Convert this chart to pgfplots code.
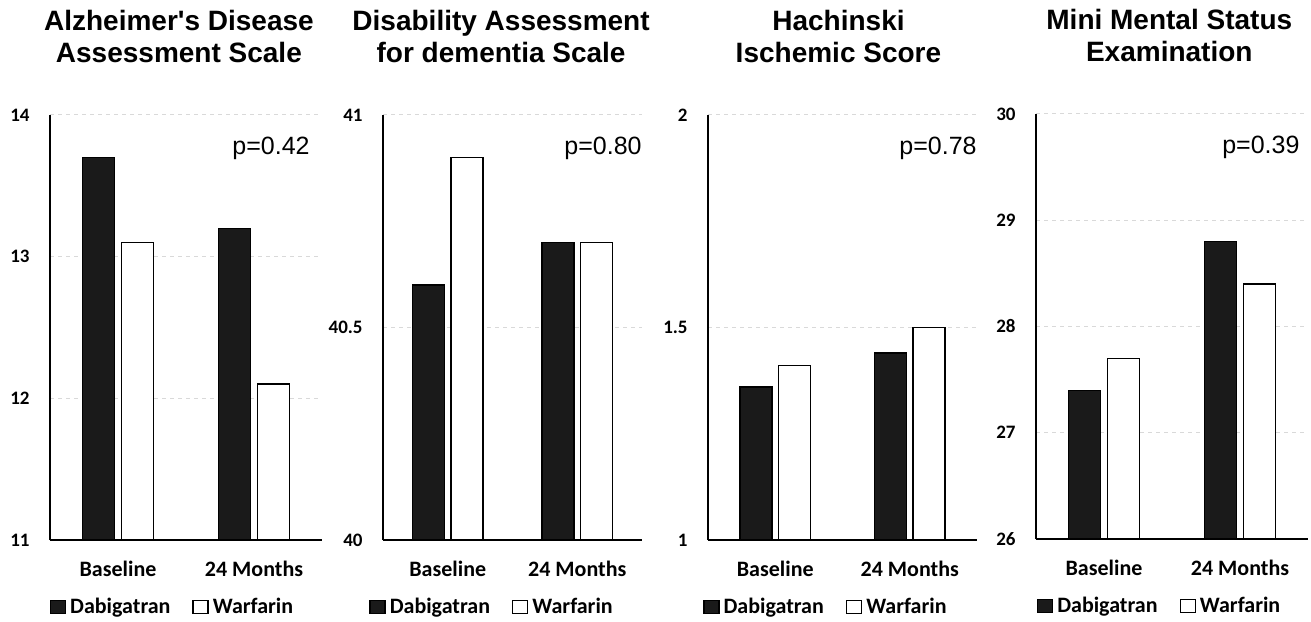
\documentclass[border=0pt]{standalone}
\usepackage{fontspec}
\setmainfont{Carlito}
\newfontfamily\arialfont{Liberation Sans}[Ligatures=TeXOff]
\usepackage{pgfplots}
\pgfplotsset{compat=1.18}
\definecolor{dab}{HTML}{1A1A1A}
\definecolor{gridgrey}{HTML}{D9D9D9}

\pgfplotsset{
  every axis title shift=0pt,
  panel/.style={
    scale only axis, height=212.5pt,
    xmin=-0.5, xmax=1.5,
    ybar=3.25pt, bar width=16pt,
    axis x line*=bottom, axis y line*=left,
    x axis line style={-, line width=0.85pt},
    y axis line style={-, line width=1pt},
    xtick={0,1}, xticklabels={Baseline,24 Months},
    major tick length=0pt,
    ymajorgrids,
    major grid style={gridgrey, line width=0.5pt, dash pattern=on 2pt off 2pt},
    /pgf/number format/assume math mode=true,
    yticklabel style={font=\fontsize{9.5}{11}\selectfont\bfseries, anchor=east, inner sep=0pt, xshift=-10pt},
    xticklabel style={font=\fontsize{11}{13}\selectfont\bfseries, anchor=north, inner sep=0pt, yshift=-10.5pt},
    title style={font=\arialfont\bfseries\fontsize{14}{16}\selectfont, align=center, anchor=south, inner sep=0pt, yshift=26pt},
    legend style={draw=none, fill=none, anchor=north, legend columns=2,
      font=\fontsize{11}{13}\selectfont\bfseries,
      /tikz/every even column/.append style={column sep=9pt}},
    legend image code/.code={\draw[##1,line width=0.7pt] (0pt,-3pt) rectangle (7.5pt,3.5pt);},
  },
  dabbar/.style={fill=dab, draw=black, line width=0.7pt},
  warbar/.style={fill=white, draw=black, line width=0.7pt},
}
\newcommand{\pval}[2]{\node[font=\arialfont\fontsize{12.5}{14}\selectfont, anchor=base east, inner sep=0pt, yshift=-20pt] at (rel axis cs:#1,1) {#2};}

\begin{document}
\begin{tikzpicture}
\useasboundingbox (0,0) rectangle (655.5pt,310.5pt);

% ADAS
\begin{axis}[panel, at={(25pt,40.5pt)}, anchor=south west, width=136pt,
    ymin=11, ymax=14, ytick={11,12,13,14},
    title={Alzheimer's Disease\\Assessment Scale}, title style={at={(0.474,1)}},
    legend style={at={(0.454,0)}, yshift=-25pt}]
  \addplot[dabbar] coordinates {(0,13.7) (1,13.2)};
  \addplot[warbar] coordinates {(0,13.1) (1,12.1)};
  \legend{Dabigatran, Warfarin}
  \pval{0.956}{p=0.42}
\end{axis}

% DAD
\begin{axis}[panel, at={(191.5pt,40.5pt)}, anchor=south west, width=129.5pt,
    ymin=40, ymax=41, ytick={40,40.5,41},
    title={Disability Assessment\\for dementia Scale}, title style={at={(0.456,1)}},
    legend style={at={(0.425,0)}, yshift=-25pt}]
  \addplot[dabbar] coordinates {(0,40.6) (1,40.7)};
  \addplot[warbar] coordinates {(0,40.9) (1,40.7)};
  \legend{Dabigatran, Warfarin}
  \pval{1.0}{p=0.80}
\end{axis}

% Hachinski
\begin{axis}[panel, at={(354pt,40.5pt)}, anchor=south west, width=134.5pt,
    ymin=1, ymax=2, ytick={1,1.5,2},
    title={Hachinski\\Ischemic Score}, title style={at={(0.485,1)}},
    legend style={at={(0.442,0)}, yshift=-25pt}]
  \addplot[dabbar] coordinates {(0,1.36) (1,1.44)};
  \addplot[warbar] coordinates {(0,1.41) (1,1.50)};
  \legend{Dabigatran, Warfarin}
  \pval{1.0}{p=0.78}
\end{axis}

% MMSE
\begin{axis}[panel, at={(518pt,41pt)}, anchor=south west, width=136pt,
    ymin=26, ymax=30, ytick={26,27,28,29,30},
    title={Mini Mental Status\\Examination}, title style={at={(0.49,1)}},
    legend style={at={(0.458,0)}, yshift=-25pt}]
  \addplot[dabbar] coordinates {(0,27.4) (1,28.8)};
  \addplot[warbar] coordinates {(0,27.7) (1,28.4)};
  \legend{Dabigatran, Warfarin}
  \pval{0.97}{p=0.39}
\end{axis}
\end{tikzpicture}
\end{document}
